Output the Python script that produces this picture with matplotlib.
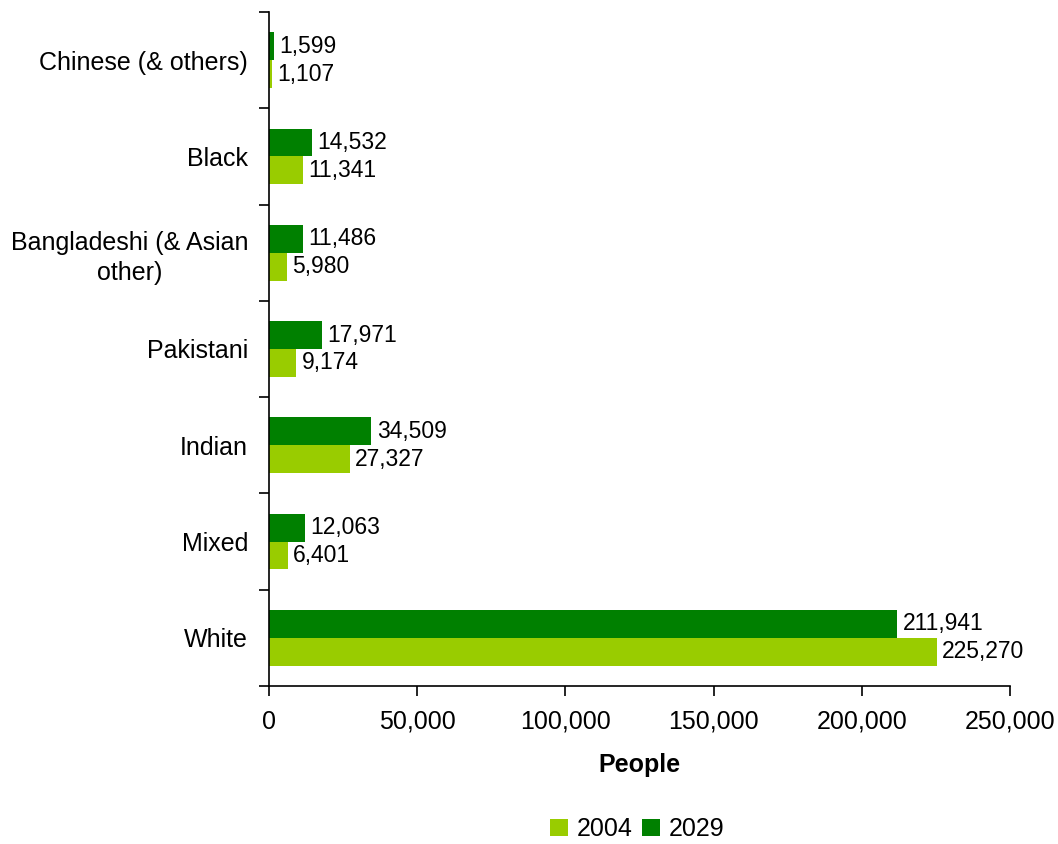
import matplotlib
matplotlib.use("Agg")
import matplotlib.pyplot as plt
import numpy as np
from matplotlib.ticker import FuncFormatter, FixedLocator

plt.rcParams['font.family'] = ['Liberation Sans', 'DejaVu Sans']

categories = ["White", "Mixed", "Indian", "Pakistani", "Bangladeshi (& Asian\nother)", "Black", "Chinese (& others)"]
values_2004 = [225270, 6401, 27327, 9174, 5980, 11341, 1107]
values_2029 = [211941, 12063, 34509, 17971, 11486, 14532, 1599]
series_labels = ["2004", "2029"]
color_2004 = "#99CC00"
color_2029 = "#008000"

fig = plt.figure(figsize=(10.58, 8.44), dpi=100)
ax = fig.add_axes([269/1058, 1-686/844, (1010-269)/1058, (686-12)/844])

y = np.arange(len(categories))
h = 0.29
b1 = ax.barh(y - h/2, values_2004, height=h, color=color_2004, label=series_labels[0])
b2 = ax.barh(y + h/2, values_2029, height=h, color=color_2029, label=series_labels[1])

for bars, vals in ((b1, values_2004), (b2, values_2029)):
    for rect, v in zip(bars, vals):
        ax.text(rect.get_width() + 1800, rect.get_y() + rect.get_height()/2, f"{v:,}",
                va='center', ha='left', fontsize=16.5)

ax.set_xlim(0, 250000)
ax.set_ylim(-0.5, len(categories) - 0.5)
ax.set_xticks([0, 50000, 100000, 150000, 200000, 250000])
ax.xaxis.set_major_formatter(FuncFormatter(lambda v, p: f"{int(v):,}"))
ax.tick_params(axis='x', direction='out', length=7, width=1.2, labelsize=18, pad=10)

ax.set_yticks(y)
ax.set_yticklabels(categories, fontsize=18, multialignment='center', linespacing=1.3)
ax.tick_params(axis='y', which='major', length=0, pad=15)
ax.yaxis.set_minor_locator(FixedLocator(np.arange(-0.5, len(categories), 1.0)))
ax.tick_params(axis='y', which='minor', direction='out', length=7, width=1.2)

for s in ['top', 'right']:
    ax.spines[s].set_visible(False)
for s in ['left', 'bottom']:
    ax.spines[s].set_linewidth(1.2)

ax.set_xlabel("People", fontsize=18, fontweight='bold', labelpad=14)

handles = [b1, b2]
fig.legend(handles, series_labels, loc='center', bbox_to_anchor=(637/1058, 1-829/844), ncol=2,
           frameon=False, fontsize=18, handlelength=0.7, handleheight=0.7, handletextpad=0.35,
           columnspacing=0.4)

fig.savefig("out.png", dpi=100)
